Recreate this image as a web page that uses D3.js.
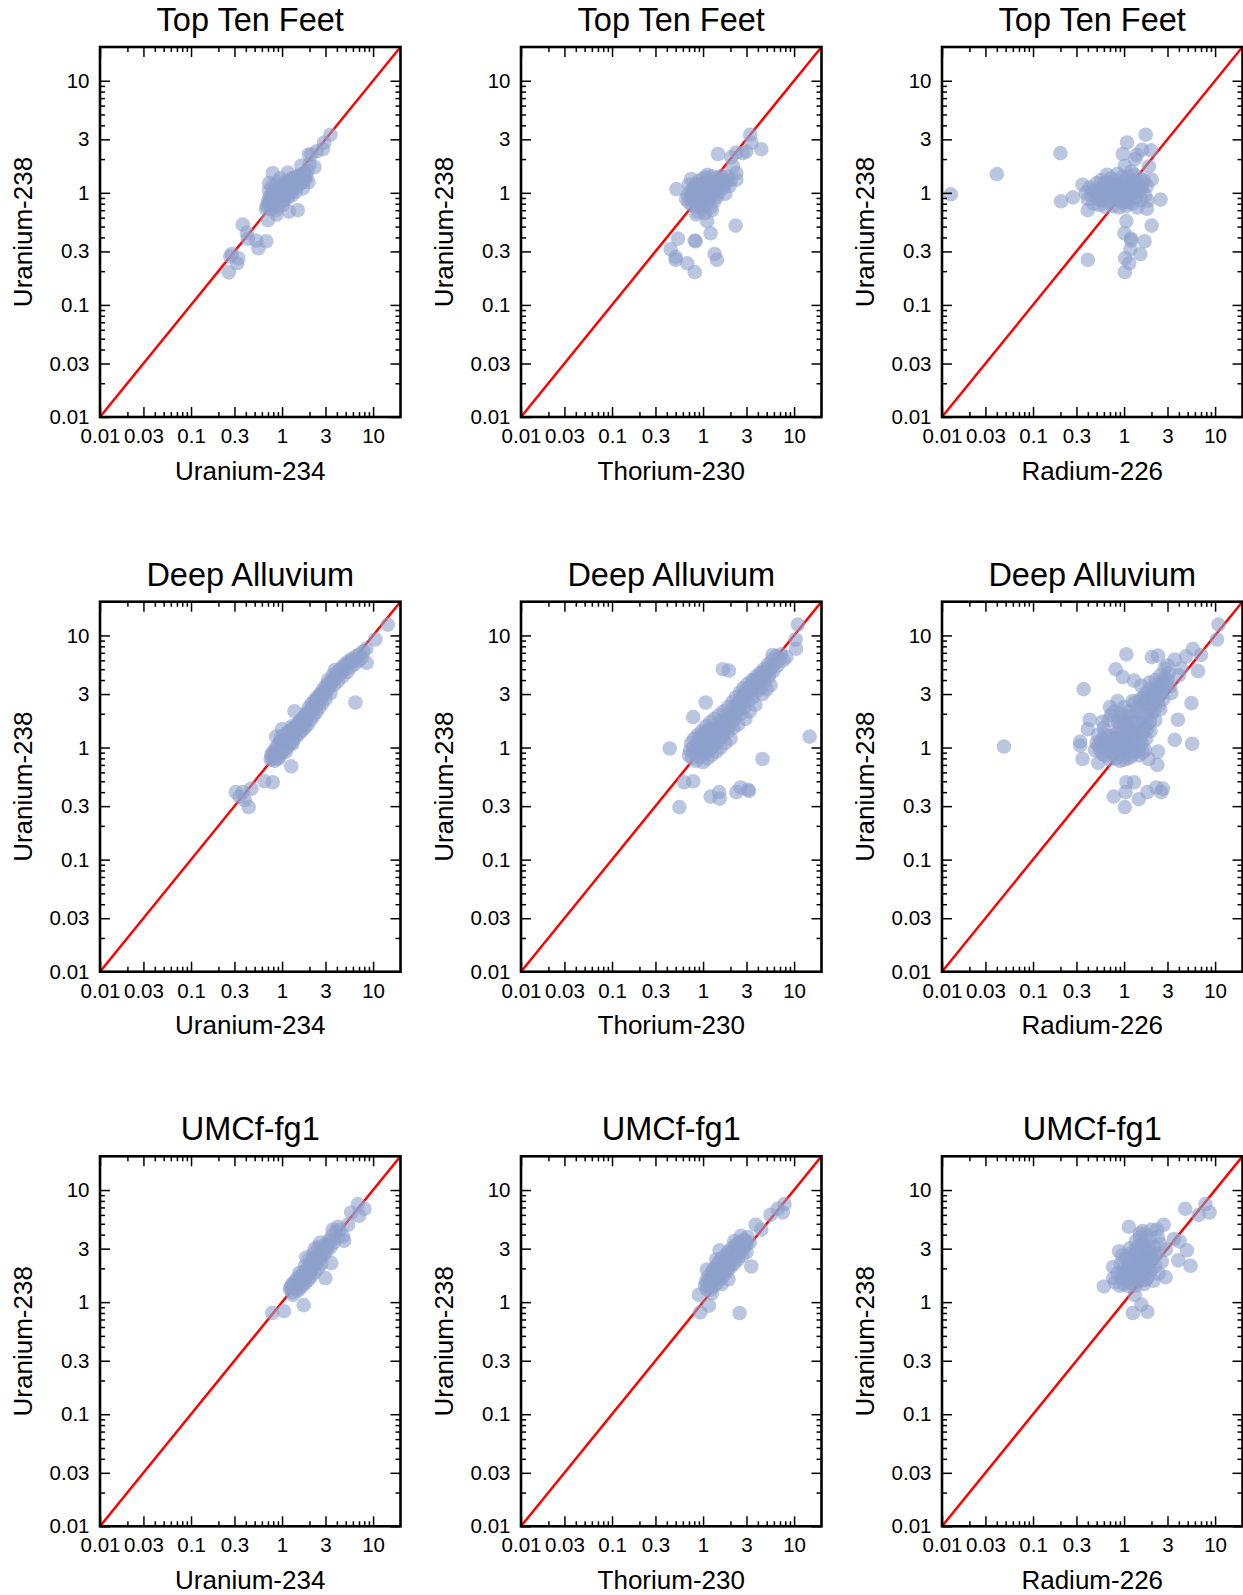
<!DOCTYPE html>
<html><head><meta charset="utf-8">
<script src="https://cdn.jsdelivr.net/npm/d3@7"></script>
<style>
body{margin:0;background:#fff;}
text{font-family:"Liberation Sans",Arial,Helvetica,sans-serif;fill:#000;}
</style>
</head><body>
<svg id="chart" width="1243" height="1595"></svg>
<script>
// ---------------- data ----------------
const rowTitles = ["Top Ten Feet", "Deep Alluvium", "UMCf-fg1"];
const xLabels = ["Uranium-234", "Thorium-230", "Radium-226"];
const yLabel = "Uranium-238";
const axisDomain = [0.01, 20];
const majorTicks = [0.01, 0.03, 0.1, 0.3, 1, 3, 10];
const majorTickLabels = ["0.01", "0.03", "0.1", "0.3", "1", "3", "10"];
const minorTicks = [0.02, 0.04, 0.05, 0.06, 0.07, 0.08, 0.09,
                    0.2, 0.4, 0.5, 0.6, 0.7, 0.8, 0.9,
                    2, 4, 5, 6, 7, 8, 9];

// Top Ten Feet: U-234 (x) vs U-238 (y)
const ttfU234 = [
 [3.4,3.3],[2.9,2.8],[2.8,2.45],[2.4,2.35],[2.1,2.2],[1.97,2.2],[2.27,1.7],[1.63,1.75],[2.0,1.8],
 [0.79,1.5],[1.16,1.52],[0.72,1.22],
 [1.49,0.70],[1.19,0.68],[0.87,0.64],[0.70,0.57],[0.67,0.72],
 [0.37,0.52],[0.41,0.44],[0.42,0.39],[0.52,0.375],[0.67,0.37],[0.55,0.32],
 [0.28,0.285],[0.33,0.26],[0.27,0.27],[0.32,0.235],[0.26,0.195],
 [0.68,0.76],[0.70,0.82],[0.72,0.90],[0.74,0.78],[0.75,0.95],[0.76,0.72],[0.78,0.85],[0.80,1.00],[0.80,0.78],
 [0.82,0.90],[0.84,1.08],[0.85,0.80],[0.86,0.95],[0.88,0.86],[0.90,1.02],[0.90,0.76],[0.92,1.12],[0.93,0.90],
 [0.95,0.98],[0.97,0.83],[0.98,1.08],[1.00,1.18],[1.00,0.92],[1.02,1.00],[1.05,0.86],[1.05,1.12],[1.08,1.25],
 [1.10,0.98],[1.12,1.06],[1.15,1.18],[1.15,0.90],[1.18,1.30],[1.20,1.02],[1.22,1.12],[1.25,1.22],[1.28,0.95],
 [1.30,1.35],[1.32,1.08],[1.35,1.18],[1.40,1.28],[1.42,1.02],[1.45,1.40],[1.50,1.15],[1.52,1.30],[1.58,1.45],
 [1.60,1.22],[1.65,1.35],[1.70,1.10],[1.75,1.50],[1.80,1.30],[1.85,1.42],[1.90,1.58],[1.95,1.25],[0.72,1.05],
 [0.78,1.15],[0.88,1.25],[0.95,1.35],[1.02,0.78],[0.85,0.70],
 [0.80,0.88],[0.85,0.92],[0.90,0.96],[0.95,0.92],[1.00,1.02],[1.05,1.00],[1.10,1.08],[1.15,1.05],[1.20,1.15],
 [1.25,1.10],[1.30,1.20],[1.35,1.25],[1.40,1.15],[1.45,1.22],[1.50,1.28],[0.75,0.85],[0.82,0.96],[0.92,1.05],
 [1.02,1.10],[1.12,1.15],[1.22,1.25],[1.35,1.35],[0.88,0.82],[0.98,0.88],[1.08,0.95],[1.18,1.00],[1.30,1.05],
 [1.55,1.38],[1.68,1.25],[1.75,1.38],[0.72,0.80],[0.78,0.92]
];
// Top Ten Feet: Th-230 (x) vs U-238 (y)
const ttfTh230 = [
 [3.3,3.3],[3.4,2.8],[4.36,2.45],[2.74,2.26],[2.99,2.34],[2.32,2.29],[1.46,2.22],[2.04,2.08],[2.13,1.72],[2.32,1.5],[2.32,1.31],
 [0.51,1.08],[0.74,1.33],
 [2.28,0.51],[0.84,0.64],[1.11,0.56],[1.21,0.436],[0.53,0.39],[0.81,0.375],[0.83,0.37],[0.44,0.314],[0.50,0.267],
 [0.50,0.252],[0.67,0.235],[0.81,0.196],[1.34,0.285],[1.42,0.252],
 [0.65,0.88],[0.68,0.95],[0.70,0.82],[0.72,1.02],[0.75,0.90],[0.76,0.78],[0.78,1.10],[0.80,0.95],[0.82,0.85],
 [0.84,1.20],[0.85,0.76],[0.87,1.02],[0.90,0.90],[0.90,1.28],[0.92,0.80],[0.95,1.12],[0.96,0.98],[0.98,0.72],
 [1.00,1.35],[1.00,0.86],[1.02,1.05],[1.05,0.94],[1.06,1.22],[1.08,0.78],[1.10,1.38],[1.12,1.10],[1.14,0.88],
 [1.15,1.00],[1.18,1.28],[1.20,0.74],[1.22,1.15],[1.25,0.95],[1.28,1.40],[1.30,1.05],[1.32,0.84],[1.35,1.25],
 [1.40,1.12],[1.42,0.92],[1.45,1.35],[1.50,1.02],[1.55,1.20],[1.60,1.42],[1.65,1.10],[1.70,1.30],[1.75,0.98],
 [1.80,1.22],[1.85,1.40],[1.95,1.15],[2.0,1.30],[0.70,1.18],[0.88,0.68],[1.05,0.66],[1.25,0.70],[1.12,1.45],
 [0.75,0.98],[0.80,1.05],[0.85,0.92],[0.90,1.00],[0.95,1.05],[1.00,0.95],[1.05,1.08],[1.10,1.00],[1.15,1.12],
 [1.20,1.05],[1.25,1.18],[1.30,1.12],[1.35,1.05],[1.40,1.22],[1.50,1.18],[1.60,1.25],[0.82,1.15],[0.92,1.20],
 [1.02,1.18],[1.12,1.25],[0.88,0.85],[0.98,0.82],[1.08,0.88],[1.18,0.92],[1.28,0.98],[1.38,0.98],[1.45,1.10],
 [1.58,1.32],[1.70,1.18],[0.78,0.86]
];
// Top Ten Feet: Ra-226 (x) vs U-238 (y)
const ttfRa226 = [
 [0.0125,0.97],[0.040,1.47],[0.20,2.26],[0.203,0.84],[0.275,0.91],[0.35,1.18],[0.40,0.252],[0.40,0.70],
 [1.73,3.3],[1.08,2.81],[0.97,2.22],[1.38,2.18],[1.57,2.42],[1.98,2.39],[1.87,1.72],[1.32,2.0],[1.02,1.74],
 [2.01,1.31],[2.52,0.87],[1.78,0.72],[1.06,0.56],[2.01,0.51],[1.01,0.436],[1.19,0.39],[1.20,0.375],[1.68,0.37],
 [1.17,0.314],[1.51,0.284],[1.03,0.261],[1.14,0.235],[1.02,0.196],
 [0.38,1.00],[0.40,0.88],[0.42,1.12],[0.44,0.95],[0.46,0.80],[0.48,1.05],[0.50,1.22],[0.50,0.90],[0.53,0.78],
 [0.55,1.00],[0.56,1.30],[0.58,0.88],[0.60,1.12],[0.62,0.75],[0.64,0.96],[0.66,1.25],[0.68,0.84],[0.70,1.05],
 [0.72,1.35],[0.74,0.92],[0.76,0.76],[0.78,1.15],[0.80,0.98],[0.82,1.28],[0.84,0.86],[0.86,1.06],[0.88,0.74],
 [0.90,1.20],[0.92,0.95],[0.95,1.38],[0.96,0.82],[0.98,1.10],[1.00,0.90],[1.02,1.28],[1.05,0.76],[1.07,1.02],
 [1.10,1.40],[1.12,0.88],[1.15,1.18],[1.18,0.96],[1.20,1.30],[1.24,0.80],[1.28,1.08],[1.30,1.45],[1.34,0.92],
 [1.38,1.22],[1.42,1.02],[1.48,1.35],[1.52,0.86],[1.58,1.12],[1.65,1.30],[1.70,0.95],[1.78,1.15],[1.82,0.85],
 [0.65,1.45],[0.85,1.48],[1.20,1.55],[1.40,0.74],
 [0.45,1.05],[0.52,1.00],[0.58,1.05],[0.62,0.92],[0.66,1.10],[0.70,0.95],[0.74,1.05],[0.78,0.92],[0.82,1.05],
 [0.86,0.95],[0.90,1.05],[0.94,0.90],[0.98,1.00],[1.02,1.12],[1.06,0.95],[1.10,1.05],[1.15,0.98],[1.20,1.10],
 [1.25,1.00],[1.32,1.10],[1.40,1.12],[1.50,1.05],[0.60,1.22],[0.70,1.22],[0.80,1.18],[0.90,0.85],[1.00,1.20],
 [1.10,0.82],[1.30,1.25],[0.55,0.86],[0.65,0.82],[1.60,1.22]
];
// Deep Alluvium: U-234 (x) vs U-238 (y)
const daU234 = [
 [14.5,12.5],[10.6,9.2],[8.4,7.6],[8.5,5.7],[6.4,2.52],[3.8,4.9],[1.37,2.1],[1.0,1.46],[0.86,1.25],[1.26,0.68],
 [0.64,0.50],[0.79,0.49],[0.31,0.40],[0.37,0.40],[0.46,0.43],[0.34,0.365],[0.39,0.34],[0.43,0.294],
 [0.75,0.78],[0.76,0.86],[0.78,0.80],[0.80,0.92],[0.82,0.84],[0.83,0.76],[0.85,0.98],[0.87,0.88],[0.88,0.80],
 [0.90,1.05],[0.92,0.94],[0.94,0.85],[0.95,1.12],[0.97,1.00],[1.00,0.90],[1.00,1.18],[1.03,1.06],[1.05,0.96],
 [1.07,1.25],[1.10,1.12],[1.12,1.00],[1.15,1.32],[1.18,1.18],[1.20,1.06],[1.22,1.40],[1.25,1.25],[1.28,1.12],
 [1.30,1.48],[1.33,1.32],[1.36,1.20],[1.40,1.55],[1.43,1.40],[1.46,1.28],[1.50,1.65],[1.53,1.48],[1.56,1.35],
 [1.60,1.75],[1.63,1.58],[1.66,1.42],[1.70,1.85],[1.74,1.66],[1.78,1.50],[1.82,1.98],[1.86,1.76],[1.90,1.60],
 [1.95,2.25],[2.00,2.00],[2.05,1.75],[2.10,2.45],[2.15,2.15],[2.20,1.90],[2.25,2.60],[2.30,2.30],[2.36,2.05],
 [2.42,2.80],[2.48,2.45],[2.55,2.25],[2.60,3.00],[2.68,2.70],[2.75,2.45],[2.82,3.30],[2.90,2.95],[3.00,2.70],
 [3.05,3.60],[3.12,3.20],[3.20,4.00],[3.30,3.50],[3.40,3.05],[3.50,3.90],[3.60,4.40],[3.70,3.60],[3.85,4.20],
 [4.00,4.70],[4.10,3.90],[4.30,4.50],[4.45,5.10],[4.60,4.30],[4.80,4.90],[5.00,5.60],[5.20,4.70],[5.40,5.90],
 [5.60,5.20],[5.90,6.20],[6.20,5.50],[6.50,6.50],[6.80,5.90],[7.10,6.80],[7.50,6.30],[7.80,7.20],
 [0.80,0.85],[0.85,0.90],[0.90,0.95],[0.95,1.00],[1.00,1.05],[1.05,1.10],[1.10,1.15],[1.15,1.20],[1.20,1.25],
 [1.25,1.32],[1.30,1.38],[1.35,1.42],[1.40,1.45],[1.45,1.50],[1.50,1.55],[1.55,1.62],[1.60,1.65],[1.65,1.70],
 [1.70,1.75],[1.75,1.82],[1.80,1.85],[1.85,1.92],[1.90,2.00],[2.00,2.10],[2.10,2.20],[2.20,2.30],[2.30,2.45],
 [2.40,2.60],[2.50,2.70],[2.60,2.80],[2.70,2.95],[2.80,3.10],[2.95,3.20],[3.10,3.40],[3.25,3.65],[3.45,3.70],
 [3.70,4.00],[4.00,4.30],[4.30,4.80],[4.70,5.30],[5.20,5.40],[5.70,5.80],[6.20,6.00],[0.98,1.25],[1.12,1.35],
 [1.28,1.55],[0.92,0.80],[1.10,0.92],[1.30,1.08]
];
// Deep Alluvium: Th-230 (x) vs U-238 (y)
const daTh230 = [
 [11,12.5],[10.4,9.2],[10.5,7.6],[8.2,6.4],[1.65,5.0],[1.92,4.85],[1.07,2.52],[0.78,1.87],[0.43,0.98],[14.8,1.25],
 [4.5,0.79],[0.62,0.49],[0.78,0.50],[0.55,0.294],[1.21,0.365],[1.50,0.40],[1.52,0.35],[2.32,0.40],[2.58,0.44],
 [3.11,0.42],[3.2,0.41],
 [0.70,0.85],[0.72,0.95],[0.74,1.10],[0.76,0.80],[0.78,1.00],[0.80,1.20],[0.82,0.90],[0.84,0.76],[0.86,1.08],
 [0.88,1.30],[0.90,0.95],[0.92,0.82],[0.95,1.15],[0.97,1.40],[1.00,1.00],[1.00,0.74],[1.03,1.25],[1.05,0.88],
 [1.08,1.55],[1.10,1.10],[1.12,0.80],[1.15,1.35],[1.18,0.96],[1.20,1.68],[1.22,1.20],[1.25,0.86],[1.28,1.45],
 [1.30,1.05],[1.33,1.80],[1.36,1.28],[1.40,0.92],[1.43,1.60],[1.46,1.15],[1.50,1.95],[1.53,1.40],[1.56,1.00],
 [1.60,1.75],[1.64,1.25],[1.68,2.10],[1.72,1.55],[1.76,1.10],[1.80,1.90],[1.85,1.38],[1.90,2.30],[1.95,1.70],
 [2.00,1.20],
 [2.05,2.05],[2.10,2.55],[2.15,1.50],[2.20,2.30],[2.25,1.85],[2.30,2.80],[2.36,2.10],[2.42,1.60],[2.48,2.50],
 [2.55,3.10],[2.62,2.00],[2.70,2.75],[2.78,3.40],[2.85,2.30],[2.92,1.80],[3.00,3.00],[3.08,3.70],[3.16,2.60],
 [3.25,2.10],[3.35,3.30],[3.45,4.00],[3.55,2.80],[3.65,3.60],[3.75,2.40],[3.85,4.30],[3.95,3.20],
 [4.10,3.80],[4.20,4.60],[4.35,3.40],[4.50,4.20],[4.65,5.00],[4.80,3.90],[5.00,4.70],[5.15,5.50],[5.30,4.30],
 [5.50,5.10],[5.70,6.00],[5.90,4.80],[6.10,5.60],[6.30,6.50],[6.60,5.40],[6.90,6.20],[7.20,6.80],[7.60,6.00],
 [5.8,6.7],[4.5,3.0],[5.0,3.3],[5.5,3.6],
 [0.78,0.92],[0.84,1.00],[0.90,1.10],[0.96,1.05],[1.02,1.15],[1.08,1.05],[1.14,1.20],[1.20,1.10],[1.26,1.30],
 [1.32,1.18],[1.38,1.40],[1.44,1.30],[1.50,1.50],[1.56,1.25],[1.62,1.55],[1.68,1.40],[1.74,1.70],[1.80,1.50],
 [1.88,1.80],[1.95,1.55],[2.02,1.85],[2.10,1.70],[2.18,2.00],[2.26,2.20],[2.35,2.40],[2.45,2.20],[2.55,2.60],
 [2.65,2.40],[2.75,2.90],[2.85,2.70],[2.95,3.20],[3.10,3.00],[3.25,3.50],[3.40,3.20],[3.60,3.90],[3.80,3.60],
 [4.00,4.20],[4.25,4.00],[4.50,4.70],[4.80,4.50],[5.10,5.10],[5.40,4.80],[0.88,0.86],[0.98,0.92],[1.10,0.95],
 [1.22,1.00],[1.35,1.08],[0.92,1.22],[1.05,1.35],[1.18,1.45]
];
// Deep Alluvium: Ra-226 (x) vs U-238 (y)
const daRa226 = [
 [10.9,12.5],[10.5,9.2],[5.7,7.6],[7.0,6.7],[6.5,4.8],[4.8,6.5],[3.6,6.1],[2.36,6.6],[2.02,6.4],[2.79,5.1],
 [1.06,6.8],[0.81,5.0],[0.97,4.25],[1.29,3.95],[1.55,3.56],[0.36,3.32],[5.5,2.49],[3.9,1.77],[3.6,1.17],[5.6,1.08],
 [0.42,1.77],[0.40,1.46],[0.33,1.13],[0.33,1.04],[0.35,0.79],[0.048,1.02],[0.52,0.73],[2.32,0.70],[1.86,0.79],
 [2.36,0.92],[1.06,0.49],[1.29,0.49],[1.04,0.40],[0.77,0.365],[1.02,0.294],[1.45,0.346],[1.80,0.40],[2.26,0.44],
 [2.67,0.43],[2.56,0.40],[4.25,5.1],[3.1,4.6],[3.0,5.4],[4.0,4.4],[3.3,3.06],[2.9,3.7],
 [0.50,1.10],[0.52,1.30],[0.55,0.95],[0.58,1.20],[0.60,1.50],[0.62,0.85],[0.64,1.05],[0.62,1.30],[0.68,1.75],
 [0.70,0.78],[0.72,0.98],[0.74,1.20],[0.72,1.95],[0.78,2.10],[0.80,0.88],[0.82,1.10],[0.85,1.40],[0.88,1.85],
 [0.90,0.76],[0.92,1.00],[0.95,1.25],[0.98,1.60],[1.00,2.30],[1.00,0.85],[1.03,1.10],[1.06,1.45],[1.10,1.90],
 [1.12,0.80],[1.15,1.00],[1.18,1.30],[1.22,1.70],[1.25,2.60],[1.28,0.90],[1.32,1.15],[1.36,1.50],[1.40,2.10],
 [1.45,0.85],[1.50,1.05],[1.55,1.35],[1.60,1.85],[1.65,2.80],[1.70,0.95],[1.75,1.20],[1.80,1.60],[1.85,2.30],
 [1.90,3.30],[1.95,1.40],[2.00,2.00],[2.10,2.70],[2.20,1.75],[2.30,3.60],[2.40,2.40],[2.55,3.00],[2.70,4.00],
 [0.58,1.70],[0.70,2.30],[0.85,2.60],
 [0.48,0.95],[0.52,1.05],[0.56,1.12],[0.60,1.00],[0.62,1.15],[0.66,0.92],[0.68,1.08],[0.70,1.25],[0.74,0.88],
 [0.76,1.02],[0.78,1.15],[0.82,1.32],[0.84,0.95],[0.86,1.22],[0.88,1.05],[0.90,1.55],[0.94,0.88],[0.96,1.12],
 [0.98,1.35],[1.02,0.95],[1.05,1.25],[1.08,1.65],[1.10,1.05],[1.14,1.45],[1.16,0.90],[1.20,1.15],[1.24,1.40],
 [1.26,1.90],[1.30,1.00],[1.34,1.30],[1.38,1.70],[1.42,2.30],[1.46,1.15],[1.50,1.50],[1.55,2.00],[1.58,1.10],
 [1.62,1.35],[1.68,1.70],[1.72,2.50],[1.78,1.45],[1.82,1.95],[1.88,2.70],[1.92,1.70],[1.98,2.30],[2.05,3.00],
 [2.12,2.10],[2.20,2.50],[2.25,3.20],[2.35,2.80],[2.45,3.40],[2.50,2.20],[2.60,3.60],[1.00,1.80],[1.12,2.10],
 [1.30,2.50],[1.50,2.70],[0.92,2.00],[1.70,3.00],[0.82,0.80],[1.00,0.78],[1.20,0.84],[1.40,0.92],[1.60,0.90],
 [0.58,0.88],[0.86,1.70],
 [1.60,2.40],[1.80,2.80],[2.00,3.20],[2.20,3.00],[2.40,3.50],[2.60,3.20],[2.80,4.20],[2.20,4.00],[1.90,3.80],
 [2.50,4.40],[3.00,4.00],[2.70,2.70],[3.20,3.50]
];
// UMCf-fg1: U-234 (x) vs U-238 (y)
const umcU234 = [
 [6.8,7.5],[8.05,6.8],[5.75,6.3],[7.0,5.9],[5.3,4.9],[4.1,4.7],[4.8,3.53],[3.47,2.23],[2.63,3.4],[3.0,1.64],
 [1.73,0.94],[1.05,0.83],[0.78,0.80],[1.32,1.16],
 [1.22,1.30],[1.27,1.42],[1.30,1.22],[1.35,1.50],[1.40,1.35],[1.45,1.62],[1.50,1.45],[1.52,1.28],[1.58,1.70],
 [1.62,1.52],[1.66,1.38],[1.72,1.85],[1.76,1.62],[1.80,1.48],[1.86,1.98],[1.90,1.75],[1.95,1.58],[2.00,2.15],
 [2.05,1.90],[2.10,1.70],[2.15,2.35],[2.20,2.05],[2.28,1.85],[2.35,2.55],[2.40,2.25],[2.48,2.00],[2.55,2.75],
 [2.62,2.45],[2.70,2.20],[2.78,3.00],[2.88,2.65],[3.00,3.25],[3.10,2.85],[3.25,3.55],[3.40,3.10],[3.55,3.90],
 [3.70,3.40],[3.90,4.25],[4.10,3.80],[4.30,4.40],[2.30,3.00],[1.85,2.50],[3.6,4.43],[4.66,3.86],
 [1.25,1.35],[1.32,1.38],[1.38,1.45],[1.45,1.50],[1.52,1.58],[1.60,1.62],[1.68,1.70],[1.75,1.78],[1.82,1.85],
 [1.90,1.92],[1.98,2.00],[2.06,2.10],[2.15,2.18],[2.25,2.28],[2.35,2.40],[2.45,2.50],[2.55,2.60],[2.68,2.70],
 [2.80,2.85],[2.95,3.00],[3.15,3.20],[3.35,3.40],[1.55,1.82],[1.78,2.10],[2.00,2.40],[2.20,2.70],[2.50,3.10],
 [1.45,1.30],[1.70,1.50],[2.00,1.80]
];
// UMCf-fg1: Th-230 (x) vs U-238 (y)
const umcTh230 = [
 [7.85,7.5],[7.5,6.3],[5.5,6.0],[6.6,6.8],[3.78,4.9],[4.35,4.43],[1.52,2.9],[0.90,1.16],[1.16,0.93],[0.93,0.81],
 [2.52,0.80],[3.39,2.08],
 [1.05,1.40],[1.08,1.55],[1.10,1.30],[1.15,1.70],[1.18,1.45],[1.22,1.30],[1.25,1.85],[1.28,1.60],[1.32,1.40],
 [1.36,2.05],[1.40,1.75],[1.44,1.50],[1.48,2.25],[1.52,1.90],[1.56,1.62],[1.60,2.45],[1.65,2.10],[1.70,1.75],
 [1.75,2.60],[1.80,2.25],[1.85,1.90],[1.90,2.80],[1.95,2.40],[2.00,2.05],[2.05,3.00],[2.12,2.60],[2.20,2.20],
 [2.28,3.20],[2.35,2.80],[2.42,2.40],[2.50,3.40],[2.60,3.00],[2.70,2.60],[2.80,3.60],[2.90,3.20],[3.00,2.80],
 [3.10,3.80],[3.25,3.40],[1.40,2.40],[1.60,1.45],[2.20,3.50],[2.60,3.90],[1.25,1.20],[1.90,1.60],[1.10,1.95],
 [1.10,1.45],[1.18,1.60],[1.26,1.50],[1.34,1.70],[1.42,1.85],[1.50,1.70],[1.58,2.00],[1.66,1.90],[1.74,2.20],
 [1.82,2.05],[1.90,2.40],[1.98,2.25],[2.06,2.60],[2.14,2.40],[2.22,2.80],[2.30,2.55],[2.40,3.00],[2.50,2.75],
 [2.62,3.20],[2.75,3.00],[2.88,3.50],[3.00,3.30],[1.30,1.95],[1.50,2.20],[1.70,2.45],[1.90,2.10],[2.10,2.90],
 [2.40,3.30],[1.20,1.40],[1.45,1.60],[1.60,1.85]
];
// UMCf-fg1: Ra-226 (x) vs U-238 (y)
const umcRa226 = [
 [7.85,7.5],[8.7,6.3],[6.6,6.0],[4.7,6.8],[1.13,4.7],[2.72,4.9],[2.3,4.43],[1.99,4.43],[3.52,3.66],[4.07,3.48],
 [4.9,2.9],[3.94,2.36],[5.37,2.11],[0.88,2.84],[2.86,2.94],[0.76,2.06],[0.60,1.38],[2.86,1.67],[1.31,1.16],
 [1.55,0.95],[1.25,0.80],[1.80,0.82],[0.76,1.64],
 [0.80,1.50],[0.85,1.80],[0.90,1.40],[0.92,2.20],[0.95,1.65],[1.00,1.45],[1.00,2.00],[1.05,2.50],[1.08,1.75],
 [1.10,1.40],[1.12,2.20],[1.15,3.00],[1.18,1.90],[1.20,1.55],[1.22,2.60],[1.35,3.50],[1.28,2.10],[1.30,1.70],
 [1.32,1.40],[1.35,2.40],[1.38,3.10],[1.40,1.90],[1.45,1.55],[1.48,2.70],[1.50,3.80],[1.52,2.20],[1.55,1.75],
 [1.60,3.30],[1.62,2.50],[1.65,1.45],[1.70,2.00],[1.75,2.90],[1.80,1.65],[1.85,2.30],[1.90,3.60],[1.95,1.90],
 [2.00,2.60],[2.10,1.55],[2.15,3.10],[2.20,2.10],[2.30,2.70],[2.40,1.80],[2.50,3.30],[2.60,2.30],[1.50,4.10],
 [1.60,4.30],[1.75,4.00],[0.95,2.60],[2.35,3.80],
 [0.95,1.80],[1.00,1.65],[1.05,1.90],[1.10,2.00],[1.15,1.70],[1.20,2.10],[1.25,1.85],[1.28,2.40],[1.32,1.95],
 [1.36,2.20],[1.40,1.70],[1.44,2.50],[1.48,2.05],[1.52,2.80],[1.56,2.30],[1.60,1.90],[1.65,2.60],[1.70,2.25],
 [1.75,1.85],[1.80,2.50],[1.85,2.05],[1.90,2.80],[1.95,2.30],[2.05,2.40],[2.15,2.60],[1.08,2.35],[1.18,2.70],
 [1.35,2.95],[1.55,3.20],[1.70,3.40],[1.85,3.10],[1.15,1.50],[1.35,1.55],[1.55,1.55],[1.75,1.60]
];

const dataGrid = [
  [ttfU234, ttfTh230, ttfRa226],
  [daU234, daTh230, daRa226],
  [umcU234, umcTh230, umcRa226]
];

// ---------------- layout ----------------
const colLeft = [100, 521, 942];
const rowTop = [47, 601.7, 1156.3];
const W = 300.5, H = 370;
const svg = d3.select("#chart");

const fmt = d => majorTickLabels[majorTicks.indexOf(d)];

dataGrid.forEach((rowData, r) => {
  rowData.forEach((pts, c) => {
    const g = svg.append("g").attr("transform", `translate(${colLeft[c]},${rowTop[r]})`);
    const x = d3.scaleLog().domain(axisDomain).range([0, W]);
    const y = d3.scaleLog().domain(axisDomain).range([H, 0]);

    // 1:1 line
    g.append("line")
      .attr("x1", x(axisDomain[0])).attr("y1", y(axisDomain[0]))
      .attr("x2", x(axisDomain[1])).attr("y2", y(axisDomain[1]))
      .attr("stroke", "#ff0000").attr("stroke-width", 2.5);

    // points
    g.append("g").selectAll("circle").data(pts).join("circle")
      .attr("cx", d => x(d[0])).attr("cy", d => y(d[1]))
      .attr("r", 7.3).attr("fill", "#8da0cb").attr("fill-opacity", 0.6);

    // axes: major (labelled) and minor ticks, all pointing inward
    const addAxis = (gen, transform, ticks, size, labelled, pad) => {
      const a = g.append("g").attr("transform", transform)
        .call(gen.tickValues(ticks).tickSize(-size).tickPadding(pad)
          .tickFormat(labelled ? fmt : () => ""));
      a.select(".domain").remove();
      a.selectAll("line").attr("stroke", "#000").attr("stroke-width", 1.5);
      a.selectAll("text").attr("font-size", 20.5).attr("font-family", '"Liberation Sans",Arial,sans-serif').attr("fill", "#000");
      return a;
    };
    addAxis(d3.axisBottom(x), `translate(0,${H})`, majorTicks, 10, true, 11.5);
    addAxis(d3.axisBottom(x), `translate(0,${H})`, minorTicks, 5, false, 12);
    addAxis(d3.axisTop(x), `translate(0,0)`, majorTicks, 10, false, 3);
    addAxis(d3.axisTop(x), `translate(0,0)`, minorTicks, 5, false, 3);
    addAxis(d3.axisLeft(y), `translate(0,0)`, majorTicks, 10, true, 10.5);
    addAxis(d3.axisLeft(y), `translate(0,0)`, minorTicks, 5, false, 3);
    addAxis(d3.axisRight(y), `translate(${W},0)`, majorTicks, 10, false, 3);
    addAxis(d3.axisRight(y), `translate(${W},0)`, minorTicks, 5, false, 3);

    // frame
    g.append("rect").attr("x", 0).attr("y", 0).attr("width", W).attr("height", H)
      .attr("fill", "none").attr("stroke", "#000").attr("stroke-width", 2.6);

    // title
    g.append("text").attr("x", W / 2).attr("y", -16)
      .attr("text-anchor", "middle").attr("font-size", 32.5).text(rowTitles[r]);
    // x label
    g.append("text").attr("x", W / 2).attr("y", H + 62.5)
      .attr("text-anchor", "middle").attr("font-size", 26).text(xLabels[c]);
    // y label
    g.append("text").attr("transform", `translate(-68,${H / 2}) rotate(-90)`)
      .attr("text-anchor", "middle").attr("font-size", 26).text(yLabel);
  });
});
</script>
</body></html>
